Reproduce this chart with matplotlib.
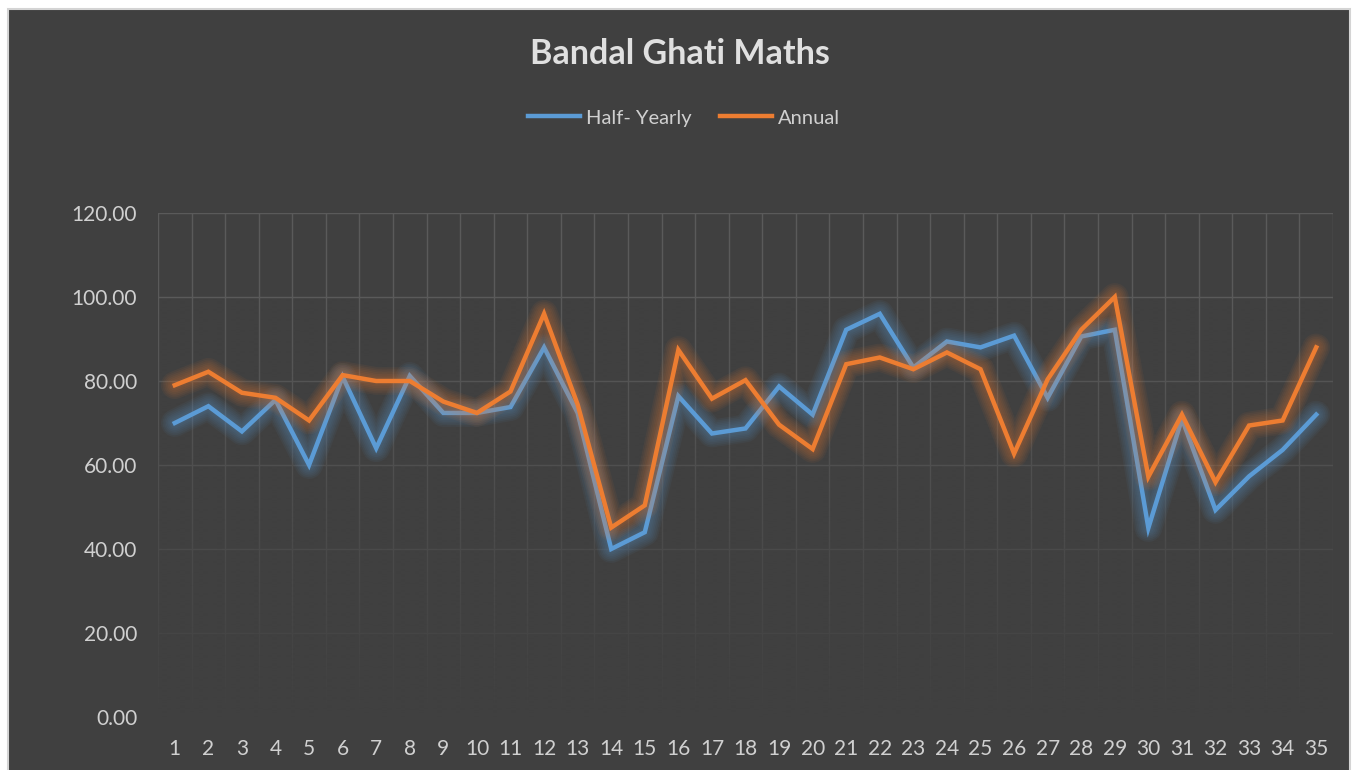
import matplotlib.pyplot as plt
import numpy as np
from matplotlib.patches import Rectangle
from matplotlib.lines import Line2D

plt.rcParams['font.family'] = ['Lato', 'DejaVu Sans']

# data
students = np.arange(1, 36)
half_yearly = [70, 74, 68, 75.5, 60, 81, 64, 81.2, 72.4, 72.4,
               73.8, 88, 72.4, 40, 44, 76.4, 67.5, 68.7, 78.7, 72,
               92.2, 96, 83.2, 89.4, 88, 90.8, 76, 90.6, 92.2, 45,
               71, 49.3, 57.3, 63.6, 72]
annual = [79, 82.2, 77.2, 76, 70.6, 81.4, 80, 80, 75.1, 72.4,
          77.5, 96, 74.4, 45.1, 50.4, 87.4, 75.8, 80.2, 69.6, 63.8,
          84, 85.6, 82.8, 86.8, 82.8, 62.7, 80.4, 92.2, 100, 57.2,
          72, 55.9, 69.4, 70.6, 88]

bg = '#404040'
txt = '#d0d0d0'
blue = '#5b9bd5'
orange = '#ed7d31'

fig = plt.figure(figsize=(13.58, 7.7), dpi=100)
fig.patch.set_facecolor('white')
fig.patches.append(Rectangle((8 / 1358, -0.02), 1342 / 1358, 761 / 770 + 0.02,
                             transform=fig.transFigure, facecolor=bg,
                             edgecolor='#d4d4d4', lw=1.5, zorder=-10))

ax = fig.add_axes([158 / 1358, 53 / 770, 1175 / 1358, 504 / 770])
ax.set_facecolor(bg)

# gridlines that fade out towards the bottom
ax.set_xticks(np.arange(0.5, 36, 1), minor=True)
ax.grid(which='minor', axis='x', color='#5a5a5a', lw=1)
ax.grid(which='major', axis='y', color='#5a5a5a', lw=1)
ax.set_axisbelow(True)
v = np.linspace(120, 0, 300)
fade = np.zeros((300, 1, 4))
fade[..., :3] = 0x40 / 255
fade[:, 0, 3] = np.clip((100 - v) / 100, 0, 1)
ax.imshow(fade, extent=(0.5, 35.5, 0, 120), aspect='auto', zorder=1,
          interpolation='bilinear')

# lines with a soft glow
for series, col, z in [(half_yearly, blue, 3), (annual, orange, 5)]:
    for k in range(1, 8):
        ax.plot(students, series, color=col, lw=3.2 + k * 2.4, alpha=0.06,
                solid_joinstyle='round', solid_capstyle='round', zorder=z)
    ax.plot(students, series, color=col, lw=3.2, zorder=z + 1,
            solid_joinstyle='miter')

ax.set_xlim(0.5, 35.5)
ax.set_ylim(0, 120)
ax.set_xticks(students)
ax.set_yticks(np.arange(0, 121, 20))
ax.set_yticklabels([f'{t:.2f}' for t in np.arange(0, 121, 20)])
ax.tick_params(axis='both', which='both', length=0, labelsize=15, colors=txt)
ax.tick_params(axis='y', pad=15)
ax.tick_params(axis='x', pad=16)
for s in ax.spines.values():
    s.set_visible(False)

fig.text(680 / 1358, 1 - 54 / 770, 'Bandal Ghati Maths', ha='center', va='center',
         fontsize=24.5, fontweight='bold', color='#e0e0e0')

h1 = Line2D([], [], color=blue, lw=3.2)
h2 = Line2D([], [], color=orange, lw=3.2)
fig.legend([h1, h2], ['Half- Yearly', 'Annual'], loc='center',
           bbox_to_anchor=(684 / 1358, 1 - 118 / 770), ncol=2, frameon=False,
           fontsize=14.5, labelcolor=txt, handlelength=2.6, handletextpad=0.3,
           columnspacing=1.4)

plt.savefig('out.png', dpi=100, facecolor=fig.get_facecolor())
